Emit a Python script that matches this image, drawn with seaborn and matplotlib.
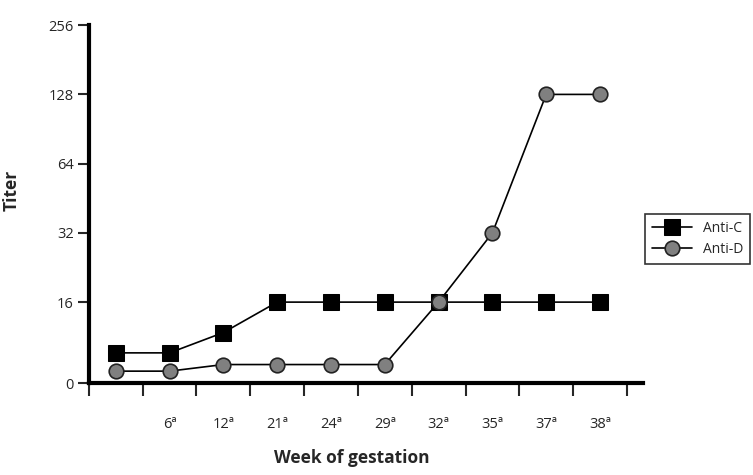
import numpy as np
import pandas as pd
import matplotlib
matplotlib.use("Agg")
import matplotlib.pyplot as plt
from matplotlib.ticker import FixedLocator
import seaborn as sns

# data
weeks = ["", "6ª", "12ª", "21ª", "24ª", "29ª", "32ª", "35ª", "37ª", "38ª"]
anti_c = [6, 6, 10, 16, 16, 16, 16, 16, 16, 16]
anti_d = [2.4, 2.4, 3.7, 3.7, 3.7, 3.7, 16, 32, 128, 128]
titer_ticks = [0, 16, 32, 64, 128, 256]

# axis: linear from 0 to 16, then one step per doubling
LOW = 1.173


def forward(v):
    v = np.asarray(v, dtype=float)
    return np.where(v <= 16, v / 16 * LOW, LOW + np.log2(np.maximum(v, 16) / 16))


def inverse(u):
    u = np.asarray(u, dtype=float)
    return np.where(u <= LOW, u / LOW * 16, 16 * 2 ** (np.maximum(u, LOW) - LOW))


sns.set_style("ticks")
plt.rcParams["font.family"] = ["Open Sans", "DejaVu Sans"]

df = pd.DataFrame({"pos": np.arange(len(weeks)), "Anti-C": anti_c, "Anti-D": anti_d})

fig = plt.figure(figsize=(7.53, 4.75), dpi=100)
ax = fig.add_axes([0.118, 0.193, 0.736, 0.754])

sns.lineplot(data=df, x="pos", y="Anti-C", ax=ax, color="black", lw=1.2,
             marker="s", markersize=11.5, markerfacecolor="black",
             markeredgecolor="black", label="Anti-C", zorder=3)
sns.lineplot(data=df, x="pos", y="Anti-D", ax=ax, color="black", lw=1.2,
             marker="o", markersize=10.5, markerfacecolor="#808080",
             markeredgecolor="#222222", markeredgewidth=1.2, label="Anti-D", zorder=3)

ax.set_yscale("function", functions=(forward, inverse))
ax.set_ylim(0, 256)
ax.set_yticks(titer_ticks)
ax.set_yticklabels([str(t) for t in titer_ticks])
ax.set_xlim(-0.5, 9.8)

ax.set_xticks(df["pos"])
ax.set_xticklabels(weeks)
ax.xaxis.set_minor_locator(FixedLocator(np.arange(len(weeks) + 1) - 0.5))
ax.tick_params(axis="x", which="major", length=0, pad=24, labelsize=10.5)
ax.tick_params(axis="x", which="minor", length=9, width=1.5, direction="out")
ax.tick_params(axis="y", length=8, width=1.5, labelsize=10.5, pad=3)

for side in ["top", "right"]:
    ax.spines[side].set_visible(False)
for side in ["left", "bottom"]:
    ax.spines[side].set_linewidth(3)
    ax.spines[side].set_color("black")

ax.set_xlabel("Week of gestation", fontsize=12.5, fontweight="bold")
ax.xaxis.set_label_coords(0.475, -0.183)
ax.set_ylabel("Titer", fontsize=12.5, fontweight="bold")
ax.yaxis.set_label_coords(-0.124, 0.54)

leg = ax.legend(loc="upper left", bbox_to_anchor=(1.003, 0.474), borderaxespad=0,
                frameon=True, fancybox=False, edgecolor="black", fontsize=10,
                handlelength=2.9, borderpad=0.5, labelspacing=0.45, handletextpad=0.8)
leg.get_frame().set_linewidth(1.2)

fig.savefig("out.png", dpi=100)
